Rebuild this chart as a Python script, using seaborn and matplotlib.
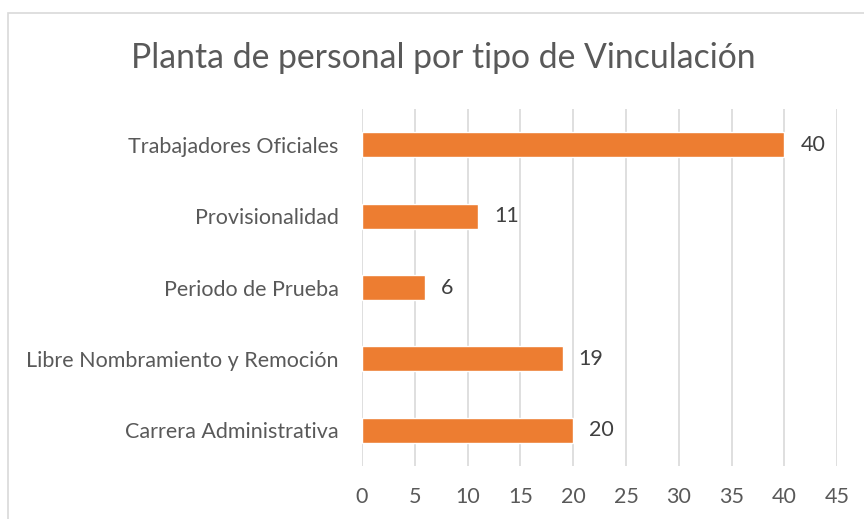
import matplotlib
import matplotlib.pyplot as plt
import seaborn as sns
import pandas as pd
from matplotlib.patches import Rectangle

matplotlib.use('Agg')

# data (top to bottom)
categorias = ['Trabajadores Oficiales', 'Provisionalidad', 'Periodo de Prueba',
              'Libre Nombramiento y Remoción', 'Carrera Administrativa']
valores = [40, 11, 6, 19, 20]
ticks_x = [0, 5, 10, 15, 20, 25, 30, 35, 40, 45]

df = pd.DataFrame({'tipo': categorias, 'personal': valores})

sns.set_style('white')
plt.rcParams['font.family'] = ['Lato', 'DejaVu Sans']

fig = plt.figure(figsize=(8.64, 5.19), dpi=100)
ax = fig.add_axes([0.419, 0.102, 0.55, 0.688])

sns.barplot(data=df, x='personal', y='tipo', color='#ED7D31', width=0.35,
            saturation=1, ax=ax, zorder=3)

# value labels to the right of each bar
for p, v in zip(ax.patches, valores):
    ax.text(p.get_width() + 1.5, p.get_y() + p.get_height() / 2, str(v),
            va='center', ha='left', fontsize=15.5, color='#404040')

ax.set_xlim(0, 45)
ax.set_xticks(ticks_x)
ax.grid(axis='x', color='#D9D9D9', linewidth=1.2, zorder=0)
ax.set_xlabel('')
ax.set_ylabel('')
for s in ax.spines.values():
    s.set_visible(False)
ax.tick_params(axis='both', length=0, labelsize=15.5, colors='#595959')
ax.tick_params(axis='y', pad=17)
ax.tick_params(axis='x', pad=15)

fig.text(0.513, 0.888, 'Planta de personal por tipo de Vinculación', ha='center',
         va='center', fontsize=24.3, color='#595959')

# outer chart frame (cropped at right and bottom)
fig.patches.append(Rectangle((8 / 864, -0.1), 1.2, 1 - 13 / 519 + 0.1,
                             transform=fig.transFigure, fill=False,
                             edgecolor='#D9D9D9', linewidth=1.2))

plt.savefig('out.png', dpi=100)
